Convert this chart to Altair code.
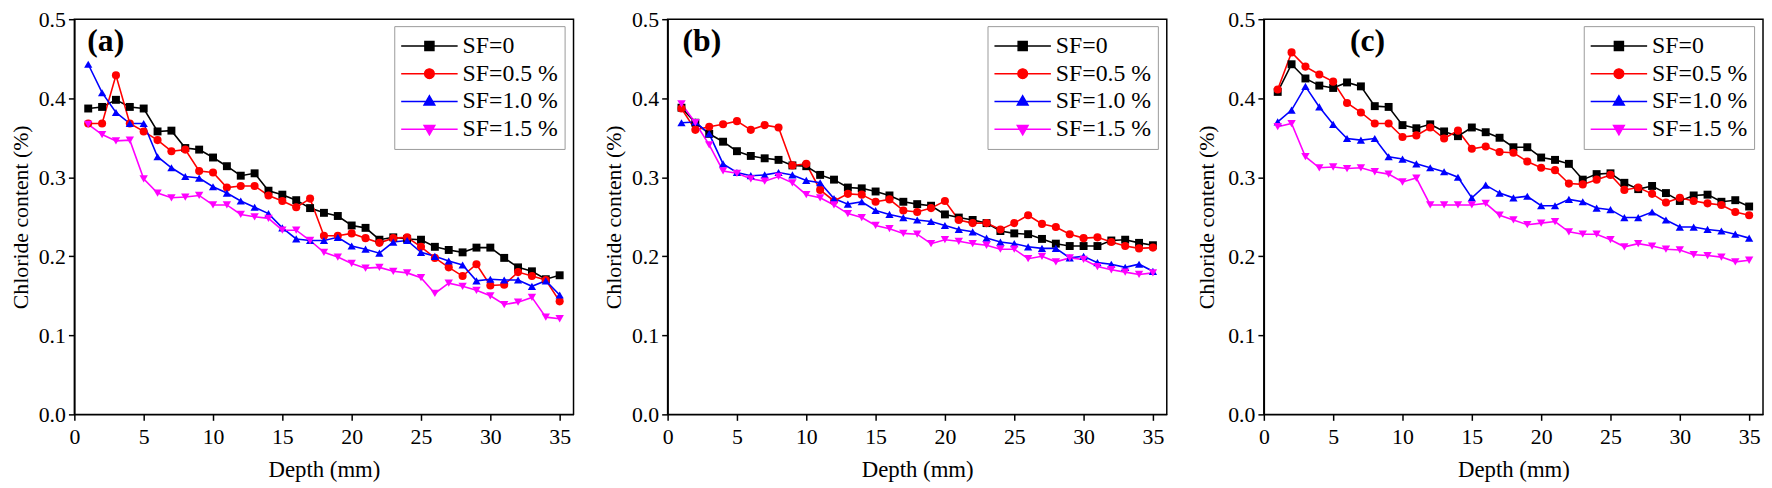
import altair as alt
import pandas as pd

# ---------------- data ----------------
depth = [1, 2, 3, 4, 5, 6, 7, 8, 9, 10, 11, 12, 13, 14, 15, 16, 17, 18, 19, 20,
         21, 22, 23, 24, 25, 26, 27, 28, 29, 30, 31, 32, 33, 34, 35]
series_names = ["SF=0", "SF=0.5 %", "SF=1.0 %", "SF=1.5 %"]
panel_labels = ["(a)", "(b)", "(c)"]
x_ticks = [0, 5, 10, 15, 20, 25, 30, 35]
y_ticks = [0.0, 0.1, 0.2, 0.3, 0.4, 0.5]

a_sf0 = [0.387, 0.389, 0.398, 0.389, 0.387, 0.358, 0.359, 0.337, 0.335, 0.325, 0.314, 0.302,
         0.305, 0.283, 0.278, 0.271, 0.261, 0.255, 0.251, 0.239, 0.236, 0.221, 0.224, 0.222,
         0.221, 0.212, 0.208, 0.205, 0.211, 0.211, 0.198, 0.186, 0.181, 0.171, 0.176]
a_sf05 = [0.368, 0.368, 0.429, 0.368, 0.358, 0.347, 0.333, 0.335, 0.308, 0.306, 0.287, 0.289,
          0.289, 0.277, 0.270, 0.262, 0.273, 0.226, 0.226, 0.229, 0.223, 0.217, 0.223, 0.224,
          0.212, 0.198, 0.186, 0.175, 0.190, 0.163, 0.164, 0.180, 0.175, 0.170, 0.143]
a_sf10 = [0.443, 0.407, 0.382, 0.368, 0.368, 0.326, 0.312, 0.301, 0.299, 0.288, 0.280, 0.270,
          0.262, 0.254, 0.236, 0.222, 0.220, 0.220, 0.224, 0.213, 0.209, 0.204, 0.218, 0.220,
          0.205, 0.200, 0.194, 0.189, 0.169, 0.171, 0.170, 0.170, 0.162, 0.169, 0.151]
a_sf15 = [0.367, 0.354, 0.346, 0.347, 0.298, 0.280, 0.274, 0.275, 0.277, 0.265, 0.265, 0.253,
          0.250, 0.248, 0.233, 0.233, 0.220, 0.205, 0.199, 0.191, 0.185, 0.186, 0.181, 0.179,
          0.173, 0.153, 0.166, 0.162, 0.157, 0.150, 0.139, 0.142, 0.148, 0.123, 0.121]

b_sf0 = [0.388, 0.369, 0.355, 0.345, 0.333, 0.327, 0.324, 0.322, 0.315, 0.314, 0.303, 0.297,
         0.287, 0.286, 0.282, 0.277, 0.269, 0.266, 0.264, 0.253, 0.249, 0.246, 0.242, 0.232,
         0.229, 0.228, 0.222, 0.216, 0.213, 0.213, 0.213, 0.220, 0.221, 0.217, 0.214]
b_sf05 = [0.387, 0.360, 0.364, 0.367, 0.371, 0.360, 0.366, 0.363, 0.315, 0.317, 0.284, 0.270,
          0.279, 0.278, 0.269, 0.272, 0.258, 0.256, 0.261, 0.270, 0.246, 0.242, 0.242, 0.234,
          0.242, 0.252, 0.241, 0.237, 0.228, 0.223, 0.224, 0.218, 0.213, 0.210, 0.211]
b_sf10 = [0.369, 0.370, 0.355, 0.317, 0.306, 0.302, 0.303, 0.306, 0.303, 0.296, 0.293, 0.273,
          0.266, 0.269, 0.258, 0.253, 0.249, 0.246, 0.244, 0.239, 0.234, 0.231, 0.223, 0.218,
          0.216, 0.212, 0.210, 0.210, 0.198, 0.200, 0.192, 0.190, 0.186, 0.190, 0.181]
b_sf15 = [0.393, 0.369, 0.341, 0.308, 0.305, 0.298, 0.295, 0.301, 0.293, 0.278, 0.274, 0.265,
          0.254, 0.249, 0.239, 0.235, 0.229, 0.228, 0.216, 0.221, 0.219, 0.216, 0.214, 0.209,
          0.209, 0.197, 0.200, 0.193, 0.198, 0.196, 0.187, 0.183, 0.180, 0.177, 0.179]

c_sf0 = [0.408, 0.443, 0.425, 0.416, 0.413, 0.420, 0.415, 0.390, 0.389, 0.366, 0.362, 0.367,
         0.358, 0.352, 0.363, 0.357, 0.350, 0.338, 0.338, 0.325, 0.322, 0.317, 0.297, 0.304,
         0.305, 0.293, 0.285, 0.289, 0.280, 0.270, 0.277, 0.278, 0.269, 0.271, 0.263]
c_sf05 = [0.411, 0.458, 0.440, 0.430, 0.421, 0.394, 0.382, 0.368, 0.368, 0.351, 0.353, 0.363,
          0.349, 0.359, 0.336, 0.339, 0.332, 0.331, 0.320, 0.312, 0.309, 0.292, 0.291, 0.297,
          0.303, 0.284, 0.287, 0.279, 0.268, 0.274, 0.270, 0.267, 0.265, 0.256, 0.252]
c_sf10 = [0.370, 0.385, 0.415, 0.389, 0.367, 0.349, 0.347, 0.349, 0.326, 0.323, 0.317, 0.312,
          0.307, 0.300, 0.274, 0.290, 0.280, 0.274, 0.276, 0.264, 0.264, 0.272, 0.269, 0.261,
          0.259, 0.249, 0.249, 0.256, 0.246, 0.237, 0.237, 0.234, 0.232, 0.228, 0.223]
c_sf15 = [0.364, 0.368, 0.326, 0.312, 0.313, 0.311, 0.312, 0.307, 0.304, 0.294, 0.299, 0.265,
          0.265, 0.265, 0.265, 0.267, 0.252, 0.246, 0.240, 0.242, 0.244, 0.231, 0.228, 0.228,
          0.221, 0.212, 0.216, 0.213, 0.209, 0.208, 0.202, 0.201, 0.199, 0.193, 0.195]

panels = [
    [a_sf0, a_sf05, a_sf10, a_sf15],
    [b_sf0, b_sf05, b_sf10, b_sf15],
    [c_sf0, c_sf05, c_sf10, c_sf15],
]

# ---------------- styles ----------------
FONT = "Liberation Serif"
series_colors = ["#000000", "#ff0000", "#0000ff", "#ff00ff"]
series_shapes = ["square", "circle", "triangle-up", "triangle-down"]
series_sizes = [64, 72, 90, 90]
# legend symbols: a horizontal line with the marker in the middle (unit box [-1,1])
legend_paths = [
    "M-1,0L1,0M-0.16,-0.16L0.16,-0.16L0.16,0.16L-0.16,0.16Z",
    "M-1,0L1,0M-0.17,0A0.17,0.17,0,1,0,0.17,0A0.17,0.17,0,1,0,-0.17,0Z",
    "M-1,0L1,0M0,-0.2L0.19,0.13L-0.19,0.13Z",
    "M-1,0L1,0M0,0.2L0.19,-0.13L-0.19,-0.13Z",
]
label_dx = [13, 15, 87]
title_pad = [6, 6, 9]

legend = alt.Legend(
    title=None,
    orient="none",
    legendX=323,
    legendY=7,
    padding=6,
    fillColor="white",
    strokeColor="#9a9a9a",
    symbolSize=3249,
    symbolStrokeWidth=1.5,
    symbolOpacity=1,
    clipHeight=28,
    rowPadding=0,
    labelOffset=4,
    labelFont=FONT,
    labelFontSize=24,
    labelColor="black",
    labelExpr="datum.label + '  '",
)

color_scale = alt.Scale(domain=series_names, range=series_colors)
shape_scale = alt.Scale(domain=series_names, range=series_shapes)
size_scale = alt.Scale(domain=series_names, range=series_sizes)
legend_shape_scale = alt.Scale(domain=series_names, range=legend_paths)

x_enc = alt.X(
    "depth:Q",
    scale=alt.Scale(domain=[0, 36], nice=False),
    axis=alt.Axis(values=x_ticks, title="Depth (mm)", titleFontSize=23,
                  labelPadding=6, titlePadding=12, labelFlush=False),
)


def make_panel(values_list, label, dx, tpad):
    rows = []
    for name, vals in zip(series_names, values_list):
        for d, v in zip(depth, vals):
            rows.append({"depth": d, "value": v, "series": name})
    df = pd.DataFrame(rows)
    y_enc = alt.Y(
        "value:Q",
        scale=alt.Scale(domain=[0, 0.5], nice=False),
        axis=alt.Axis(values=y_ticks, format=".1f", title="Chloride content (%)",
                      labelPadding=3, titlePadding=tpad),
    )
    base = alt.Chart(df).encode(x=x_enc, y=y_enc)
    lines = base.mark_line(strokeWidth=1.6).encode(
        color=alt.Color("series:N", scale=color_scale, legend=None),
    )
    points = base.mark_point(filled=True, opacity=1).encode(
        color=alt.Color("series:N", scale=color_scale, legend=None),
        shape=alt.Shape("series:N", scale=shape_scale, legend=None),
        size=alt.Size("series:N", scale=size_scale, legend=None),
    )
    # legend-only layer (no rows drawn): line-with-marker symbols
    legend_layer = base.transform_filter("datum.depth < 0").mark_point(
        filled=True, strokeWidth=1.5
    ).encode(
        color=alt.Color("series:N", scale=color_scale, legend=legend),
        stroke=alt.Stroke("series:N", scale=color_scale, legend=legend),
        shape=alt.Shape("series:N", scale=legend_shape_scale, legend=legend),
    )
    txt = alt.Chart(pd.DataFrame({"label": [label]})).mark_text(
        align="left", baseline="middle", font=FONT, fontSize=32,
        fontWeight="bold", color="black",
    ).encode(x=alt.value(dx), y=alt.value(22), text="label:N")
    return alt.layer(lines, points, legend_layer, txt).resolve_scale(
        color="independent", shape="independent", stroke="independent",
        size="independent",
    ).properties(width=504, height=399)


charts = [make_panel(p, lab, dx, tp)
          for p, lab, dx, tp in zip(panels, panel_labels, label_dx, title_pad)]

chart = alt.hconcat(*charts, spacing=27).properties(
    padding={"left": 0, "top": -3, "right": 0, "bottom": 0},
    background="white",
).configure_view(
    stroke="black", strokeWidth=1.5
).configure_axis(
    grid=False,
    domainColor="black",
    domainWidth=1.5,
    tickColor="black",
    tickWidth=1.5,
    tickSize=6,
    labelFont=FONT,
    labelFontSize=22,
    labelColor="black",
    titleFont=FONT,
    titleFontSize=22,
    titleFontWeight="normal",
    titleColor="black",
).configure_text(font=FONT)

chart.save("out.html", embed_options={"renderer": "svg", "actions": False})
